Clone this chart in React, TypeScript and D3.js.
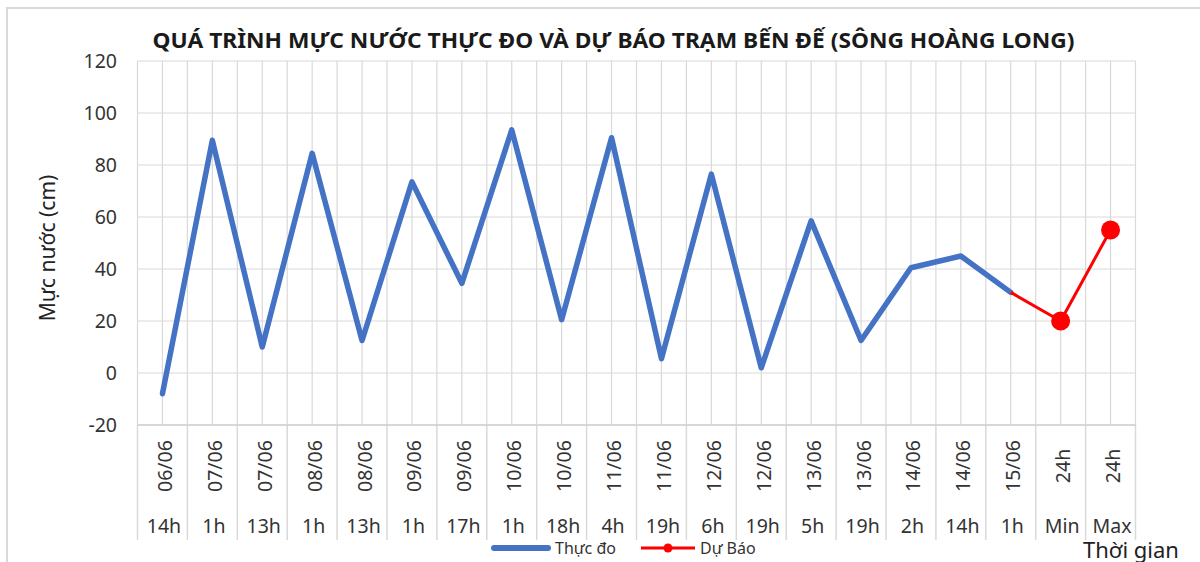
import React from "react";
import * as d3 from "d3";

const dateLabels = ["06/06","07/06","07/06","08/06","08/06","09/06","09/06","10/06","10/06","11/06","11/06","12/06","12/06","13/06","13/06","14/06","14/06","15/06","24h","24h"];
const hourLabels = ["14h","1h","13h","1h","13h","1h","17h","1h","18h","4h","19h","6h","19h","5h","19h","2h","14h","1h","Min","Max"];
const observed: (number | null)[] = [-8, 89.5, 10, 84.5, 12.5, 73.5, 34.5, 93.5, 20.5, 90.5, 5.5, 76.5, 2, 58.5, 12.5, 40.5, 45, 31, null, null];
const forecast: (number | null)[] = [null, null, null, null, null, null, null, null, null, null, null, null, null, null, null, null, null, 31, 20, 55];
const forecastMarkers = [false, false, false, false, false, false, false, false, false, false, false, false, false, false, false, false, false, false, true, true];
const yTicks = [-20, 0, 20, 40, 60, 80, 100, 120];

const TITLE = "QUÁ TRÌNH MỰC NƯỚC THỰC ĐO VÀ DỰ BÁO TRẠM BẾN ĐẾ (SÔNG HOÀNG LONG)";
const FONT = "'Noto Sans', 'DejaVu Sans', sans-serif";

export default function App() {
  const W = 1200, H = 562;
  const left = 137.5, right = 1135.5, top = 61, bottom = 425;
  const idx = dateLabels.map((_, i) => i);
  const x = d3.scaleBand<number>().domain(idx).range([left, right]).paddingInner(0).paddingOuter(0);
  const y = d3.scaleLinear().domain([-20, 120]).range([bottom, top]);
  const bw = x.bandwidth();
  const cx = (i: number) => (x(i) as number) + bw / 2;

  const line = d3.line<number | null>()
    .defined((d) => d !== null)
    .x((_, i) => cx(i))
    .y((d) => y(d as number));

  const grid = "#d9d9d9";
  const vLines: number[] = [];
  idx.forEach((i) => { vLines.push(x(i) as number); vLines.push(cx(i)); });
  vLines.push(right);
  const bounds = idx.map((i) => x(i) as number).concat([right]);

  return (
    <svg width={W} height={H} style={{ position: "absolute", left: 0, top: 0, background: "#fff" }} fontFamily={FONT}>
      <rect x={7} y={8} width={1300} height={600} fill="#fff" stroke={grid} strokeWidth={2} />
      <text x={613.5} y={48} textAnchor="middle" fontWeight="bold" fontSize={21} fill="#1a1a1a" textLength={922} lengthAdjust="spacingAndGlyphs">{TITLE}</text>

      {/* grid */}
      {yTicks.map((t) => (
        <line key={"h" + t} x1={left} x2={right} y1={y(t)} y2={y(t)} stroke={grid} strokeWidth={1.2} />
      ))}
      {vLines.map((v, k) => (
        <line key={"v" + k} x1={v} x2={v} y1={top} y2={bottom} stroke={grid} strokeWidth={1.2} />
      ))}
      {/* category separators */}
      {bounds.map((b, k) => (
        <line key={"s" + k} x1={b} x2={b} y1={bottom} y2={540} stroke={grid} strokeWidth={1.5} />
      ))}
      <line x1={left} x2={right} y1={bottom} y2={bottom} stroke="#d0d0d0" strokeWidth={1.5} />

      {/* y ticks */}
      {yTicks.map((t) => (
        <text key={"yt" + t} x={117} y={y(t) + 7} textAnchor="end" fontSize={19.5} fill="#333">{t}</text>
      ))}
      <text transform={`translate(55,248) rotate(-90)`} textAnchor="middle" fontSize={21} fill="#222">Mực nước (cm)</text>

      {/* x labels */}
      {idx.map((i) => (
        <text key={"d" + i} transform={`translate(${cx(i) + 2},466) rotate(-90)`} textAnchor="middle" dominantBaseline="central" fontSize={19.5} fill="#333">{dateLabels[i]}</text>
      ))}
      {idx.map((i) => (
        <text key={"hh" + i} x={cx(i) + 1.5} y={533} textAnchor="middle" fontSize={19.5} fill="#333">{hourLabels[i]}</text>
      ))}

      {/* series */}
      <path d={line(observed) || ""} fill="none" stroke="#4472C4" strokeWidth={5.5} strokeLinejoin="round" strokeLinecap="round" />
      <path d={line(forecast) || ""} fill="none" stroke="#FF0000" strokeWidth={3} strokeLinejoin="round" />
      {forecast.map((d, i) => (d !== null && forecastMarkers[i]) ? (
        <circle key={"m" + i} cx={cx(i)} cy={y(d)} r={9.5} fill="#FF0000" />
      ) : null)}

      {/* legend */}
      <line x1={494} x2={548} y1={548} y2={548} stroke="#4472C4" strokeWidth={6} strokeLinecap="round" />
      <text x={555} y={554} fontSize={16} fill="#333">Thực đo</text>
      <line x1={641} x2={695} y1={548} y2={548} stroke="#FF0000" strokeWidth={3} />
      <circle cx={668} cy={548} r={4.5} fill="#FF0000" />
      <text x={700} y={554} fontSize={16} fill="#333">Dự Báo</text>

      <text x={1083} y={558} fontSize={22} fill="#222">Thời gian</text>
    </svg>
  );
}
